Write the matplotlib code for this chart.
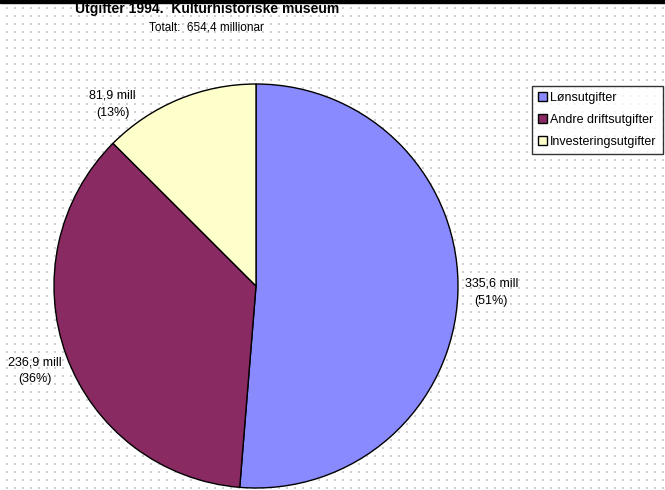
import matplotlib.pyplot as plt
import numpy as np
from matplotlib.patches import Rectangle

plt.rcParams['font.family'] = ['Liberation Sans', 'DejaVu Sans']

kategoriar = ['Lønsutgifter', 'Andre driftsutgifter', 'Investeringsutgifter']
verdiar = [335.6, 236.9, 81.9]
etikettar = ['335,6 mill\n(51%)', '236,9 mill\n(36%)', '81,9 mill\n(13%)']
fargar = ['#8a8aff', '#8a2a62', '#ffffcc']

W, H = 665, 490
fig = plt.figure(figsize=(W / 100, H / 100), dpi=100)

# bakgrunn med prikkar (som i originalen)
bg = fig.add_axes([0, 0, 1, 1], zorder=0)
bg.set_xlim(0, W)
bg.set_ylim(H, 0)
gx, gy = np.meshgrid(np.arange(7, W, 8), np.arange(8, H, 8))
bg.scatter(gx.ravel(), gy.ravel(), s=0.7, marker='s', color='#d0d0d0', linewidths=0)
bg.axis('off')

# kakediagram
cx, cy, r = 256, 286, 202
ax = fig.add_axes([(cx - r) / W, (H - cy - r) / H, 2 * r / W, 2 * r / H], zorder=1)
wedges, texts = ax.pie(verdiar, colors=fargar, startangle=90, counterclock=False,
                       labels=etikettar, labeldistance=1.16,
                       wedgeprops=dict(edgecolor='black', linewidth=1.0),
                       textprops=dict(fontsize=9, ha='center', va='center',
                                      multialignment='center', linespacing=1.55))
texts[0].set_position((1.165, -0.03))
texts[1].set_position((-1.095, -0.42))
texts[2].set_position((-0.71, 0.90))
ax.set_xlim(-1, 1)
ax.set_ylim(-1, 1)
ax.set_aspect('equal')
ax.patch.set_visible(False)

leg = fig.legend(wedges, kategoriar, loc='upper right',
                 bbox_to_anchor=(663 / W, 1 - 86 / H), fontsize=9,
                 frameon=True, fancybox=False, shadow=False,
                 handlelength=0.75, handleheight=0.75, handletextpad=0.25,
                 labelspacing=0.78, borderpad=0.5, borderaxespad=0)
leg.get_frame().set_edgecolor('black')
leg.get_frame().set_linewidth(1.0)
for h in leg.legend_handles:
    h.set_linewidth(1.0)

fig.text(207 / W, 1 - 13 / H, 'Utgifter 1994.  Kulturhistoriske museum',
         ha='center', va='baseline', fontsize=10, fontweight='bold')
fig.text(206 / W, 1 - 30 / H, 'Totalt:  654,4 millionar',
         ha='center', va='baseline', fontsize=8.5)

# svart kant øvst
fig.add_artist(Rectangle((0, 1 - 3 / H), 1, 3 / H, transform=fig.transFigure,
                         color='black', zorder=10))

fig.savefig('out.png', dpi=100)
